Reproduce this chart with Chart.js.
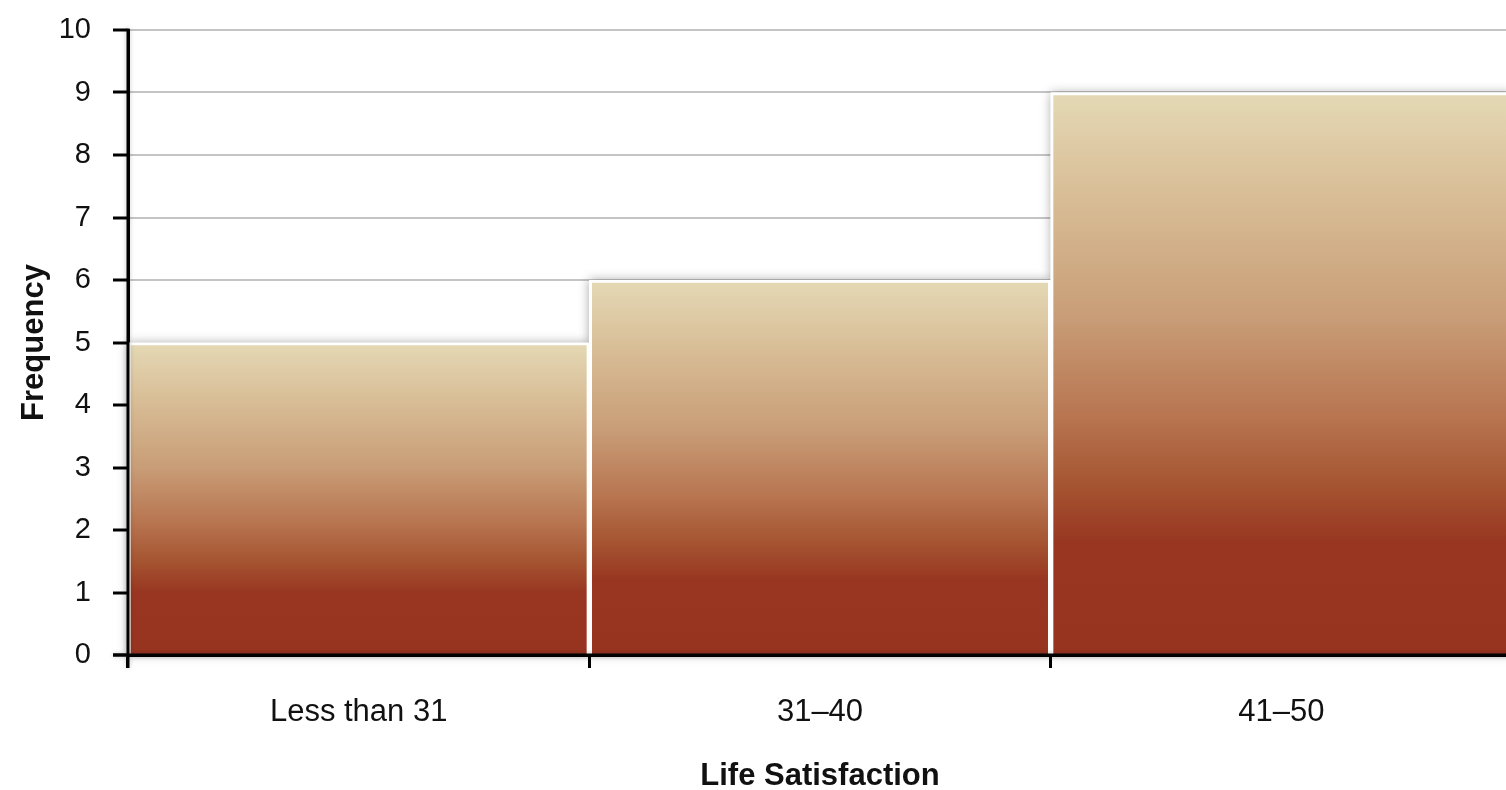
<!DOCTYPE html>
<html>
<head>
<meta charset="utf-8">
<title>Life Satisfaction</title>
<script src="https://cdn.jsdelivr.net/npm/chart.js@4/dist/chart.umd.min.js"></script>
<style>
  html, body { margin: 0; padding: 0; background: #fff; overflow: hidden; }
  canvas { display: block; }
</style>
</head>
<body>
<canvas id="chart" width="1512" height="790"></canvas>
<script>
// Frequency of life-satisfaction scores by range
const categories = ['Less than 31', '31–40', '41–50'];
const frequencies = [5, 6, 9];
const yMin = 0;
const yMax = 10;
const yStep = 1;

const FONT = "'Liberation Sans', Arial, Helvetica, sans-serif";

// Vertical shading of each bar: pale sand on top, brick red toward the base
function barGradient(context) {
  const chart = context.chart;
  if (!chart.chartArea || context.parsed === undefined) return '#b0704a';
  const y = chart.scales.y;
  const top = y.getPixelForValue(context.parsed.y);
  const base = y.getPixelForValue(0);
  const g = chart.ctx.createLinearGradient(0, top, 0, base);
  g.addColorStop(0.00, '#e4d9b5');
  g.addColorStop(0.20, '#d7bb94');
  g.addColorStop(0.40, '#c89d77');
  g.addColorStop(0.58, '#b7744f');
  g.addColorStop(0.70, '#a55431');
  g.addColorStop(0.80, '#983621');
  g.addColorStop(1.00, '#973420');
  return g;
}

// Soft drop shadow behind each bar, laid down before the bars themselves
const barShadow = {
  id: 'barShadow',
  beforeDatasetsDraw(chart) {
    const ctx = chart.ctx;
    ctx.save();
    ctx.shadowColor = 'rgba(0,0,0,0.35)';
    ctx.shadowBlur = 10;
    ctx.fillStyle = '#ffffff';
    chart.getDatasetMeta(0).data.forEach(bar => {
      const { x, y, width, base } = bar.getProps(['x', 'y', 'width', 'base'], true);
      ctx.fillRect(x - width / 2, y, width, base - y);
    });
    ctx.restore();
  }
};

// Axis lines sit on top of the bars
const axisLines = {
  id: 'axisLines',
  afterDatasetsDraw(chart) {
    const { ctx, chartArea } = chart;
    ctx.save();
    ctx.strokeStyle = '#000';
    ctx.lineWidth = 3;
    ctx.shadowColor = 'rgba(0,0,0,0.25)';
    ctx.shadowBlur = 5;
    ctx.beginPath();
    ctx.moveTo(chartArea.left, chartArea.top - 1.5);
    ctx.lineTo(chartArea.left, chartArea.bottom + 13);
    ctx.moveTo(chartArea.left - 15, chartArea.bottom);
    ctx.lineTo(chartArea.right, chartArea.bottom);
    ctx.stroke();
    ctx.restore();
  }
};

new Chart(document.getElementById('chart'), {
  type: 'bar',
  data: {
    labels: categories,
    datasets: [{
      label: 'Frequency',
      data: frequencies,
      backgroundColor: barGradient,
      borderColor: '#ffffff',
      borderWidth: 3,
      borderSkipped: 'bottom',
      categoryPercentage: 1.0,
      barPercentage: 1.0
    }]
  },
  options: {
    responsive: false,
    animation: false,
    devicePixelRatio: 1,
    layout: { padding: { top: 30, right: 0, bottom: 0, left: 0 } },
    plugins: {
      legend: { display: false },
      tooltip: { enabled: false }
    },
    scales: {
      x: {
        afterFit(scale) { scale.height = 135; },
        grid: {
          display: true,
          offset: true,
          drawOnChartArea: false,
          drawTicks: true,
          tickLength: 13,
          tickColor: '#000',
          tickWidth: 3
        },
        border: { display: true, color: '#000', width: 3 },
        ticks: {
          color: '#111',
          padding: 26,
          font: { family: FONT, size: 31 }
        },
        title: {
          display: true,
          text: 'Life Satisfaction',
          color: '#111',
          font: { family: FONT, size: 31, weight: 'bold', lineHeight: 0.85 },
          padding: { top: 0, bottom: 0 }
        }
      },
      y: {
        min: yMin,
        max: yMax,
        afterFit(scale) {
          scale.width = 128;
          scale.paddingTop = 0;
          scale.paddingBottom = 0;
        },
        grid: {
          color: '#c4c4c4',
          lineWidth: 2,
          drawTicks: true,
          tickLength: 15,
          tickColor: '#000',
          tickWidth: 3
        },
        border: { display: true, color: '#000', width: 3 },
        ticks: {
          stepSize: yStep,
          color: '#111',
          padding: 22,
          font: { family: FONT, size: 29 }
        },
        title: {
          display: true,
          text: 'Frequency',
          color: '#111',
          font: { family: FONT, size: 31, weight: 'bold', lineHeight: 1.2 },
          padding: { top: 16, bottom: 0 }
        }
      }
    }
  },
  plugins: [barShadow, axisLines]
});
</script>
</body>
</html>
